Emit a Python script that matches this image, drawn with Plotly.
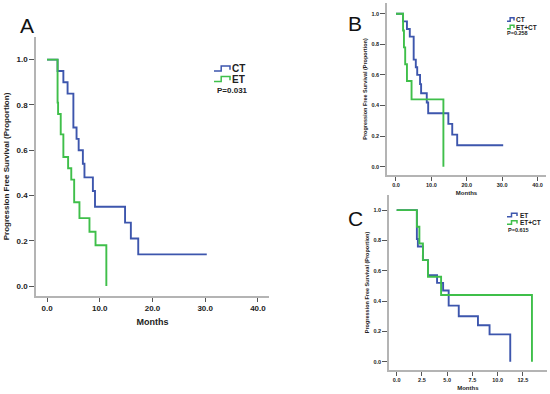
import plotly.graph_objects as go

# ---- data (Kaplan-Meier steps) ----
ct_time = [0, 2.0, 3.1, 3.9, 5.0, 5.6, 6.0, 6.8, 7.1, 8.7, 9.1, 14.8, 15.9, 17.3, 30.3]
ct_surv = [1.0, 0.95, 0.90, 0.85, 0.70, 0.65, 0.60, 0.54, 0.48, 0.42, 0.35, 0.28, 0.21, 0.14, 0.14]

et_time = [0, 2.0, 2.1, 2.6, 3.1, 4.0, 4.6, 5.15, 6.15, 8.05, 9.2, 11.25]
et_surv = [1.0, 0.81, 0.76, 0.67, 0.57, 0.52, 0.47, 0.37, 0.30, 0.24, 0.18, 0.0]

etct_time = [0, 2.0, 2.25, 2.6, 3.1, 4.4, 13.4]
etct_surv = [1.0, 0.89, 0.78, 0.67, 0.56, 0.44, 0.0]

panel_labels = ["A", "B", "C"]
p_values = ["P=0.031", "P=0.258", "P=0.615"]
legend_names = [["CT", "ET"], ["CT", "ET+CT"], ["ET", "ET+CT"]]
ytick_vals = [0.0, 0.2, 0.4, 0.6, 0.8, 1.0]
ytick_text = ["0.0", "0.2", "0.4", "0.6", "0.8", "1.0"]
xtick_ab = [0, 10, 20, 30, 40]
xtick_ab_text = ["0.0", "10.0", "20.0", "30.0", "40.0"]
xtick_c = [0, 2.5, 5, 7.5, 10, 12.5]
xtick_c_text = ["0.0", "2.5", "5.0", "7.5", "10.0", "12.5"]

BLUE = "#3d56ad"
GREEN = "#3fbf4a"
W, H = 550, 394
FONT = "Liberation Sans"

def px(x):
    return x / W

def py(y):
    return 1 - y / H

fig = go.Figure()

def km(t, s, color, xa, ya):
    fig.add_trace(go.Scatter(x=t, y=s, mode="lines", line=dict(color=color, width=1.9, shape="hv"),
                             xaxis=xa, yaxis=ya, showlegend=False, hoverinfo="skip"))

km(ct_time, ct_surv, BLUE, "x", "y")
km(et_time, et_surv, GREEN, "x", "y")
km(ct_time, ct_surv, BLUE, "x2", "y2")
km(etct_time, etct_surv, GREEN, "x2", "y2")
km(et_time, et_surv, BLUE, "x3", "y3")
km(etct_time, etct_surv, GREEN, "x3", "y3")

def xax(dom, rng, tv, tt, fs, tfs, standoff, anchor):
    return dict(domain=dom, range=rng, tickvals=tv, ticktext=tt, showline=True, linecolor="#b4b4b4",
                linewidth=1.5, ticks="outside", ticklen=4, tickcolor="#555", tickwidth=1,
                showgrid=False, zeroline=False, anchor=anchor, automargin=False,
                tickfont=dict(size=fs, family=FONT, color="#222", weight="bold"),
                title=dict(text="Months", font=dict(size=tfs, family=FONT, color="#222", weight="bold"),
                           standoff=standoff))

def yax(dom, rng, fs, tfs, standoff, anchor):
    return dict(domain=dom, range=rng, tickvals=ytick_vals, ticktext=ytick_text, showline=True,
                linecolor="#b4b4b4", linewidth=1.5, ticks="outside", ticklen=5, tickcolor="#555",
                tickwidth=1, showgrid=False, zeroline=False, anchor=anchor, automargin=False,
                tickfont=dict(size=fs, family=FONT, color="#222", weight="bold"),
                title=dict(text="Progression Free Survival (Proportion)",
                           font=dict(size=tfs, family=FONT, color="#222", weight="bold"), standoff=standoff))

fig.update_layout(
    width=W, height=H, margin=dict(l=0, r=0, t=0, b=0, autoexpand=False),
    paper_bgcolor="white", plot_bgcolor="white",
    xaxis=xax([px(36), px(269)], [-2.09, 42.1], xtick_ab, xtick_ab_text, 8, 9, 6, "y"),
    yaxis=yax([py(296), py(37)], [-0.044, 1.10], 8, 8, 6, "x"),
    xaxis2=xax([px(387), px(546)], [-2.54, 42.4], xtick_ab, xtick_ab_text, 5.5, 6, 3, "y2"),
    yaxis2=yax([py(175), py(3)], [-0.054, 1.07], 5.5, 5.5, 4, "x2"),
    xaxis3=xax([px(389), px(546.7)], [-0.76, 14.86], xtick_c, xtick_c_text, 5.5, 6, 3, "y3"),
    yaxis3=yax([py(370), py(195)], [-0.055, 1.10], 5.5, 5.5, 4, "x3"),
)

# panel letters
for lab, (x, y) in zip(panel_labels, [(27, 26), (355, 23), (355, 218)]):
    fig.add_annotation(text=lab, x=px(x), y=py(y), xref="paper", yref="paper", showarrow=False,
                       font=dict(size=21, family=FONT, color="#111"), xanchor="center", yanchor="middle")

# legends
leg_specs = [
    dict(gx=214, gw=16, gh=5, ys=[68.5, 79], tx=230, ns=10, ppx=215, ppy=90, ps=8),
    dict(gx=507, gw=7, gh=3.5, ys=[19.5, 27], tx=514, ns=6.5, ppx=505, ppy=33, ps=5.5),
    dict(gx=507, gw=10, gh=3.5, ys=[215, 222.5], tx=518, ns=6.5, ppx=506, ppy=230, ps=5.5),
]
for i, spec in enumerate(leg_specs):
    for name, color, yc in zip(legend_names[i], [BLUE, GREEN], spec["ys"]):
        x0 = spec["gx"]
        w = spec["gw"]
        h = spec["gh"]
        yb = yc + h / 2
        yt = yc - h / 2
        xm = x0 + w * 0.45
        x1 = x0 + w
        path = (f"M {px(x0)},{py(yb)} L {px(xm)},{py(yb)} L {px(xm)},{py(yt)} "
                f"L {px(x1)},{py(yt)} L {px(x1)},{py(yc + h * 0.25)}")
        fig.add_shape(type="path", path=path, xref="paper", yref="paper",
                      line=dict(color=color, width=1.5))
        fig.add_annotation(text=name, x=px(spec["tx"]), y=py(yc), xref="paper", yref="paper",
                           showarrow=False, xanchor="left", yanchor="middle",
                           font=dict(size=spec["ns"], family=FONT, color="#222", weight="bold"))
    fig.add_annotation(text=p_values[i], x=px(spec["ppx"]), y=py(spec["ppy"]), xref="paper", yref="paper",
                       showarrow=False, xanchor="left", yanchor="middle",
                       font=dict(size=spec["ps"], family=FONT, color="#222", weight="bold"))

fig.write_html("out.html", config={"displayModeBar": False},
               post_script="document.body.style.margin='0px';document.body.style.overflow='hidden';")
